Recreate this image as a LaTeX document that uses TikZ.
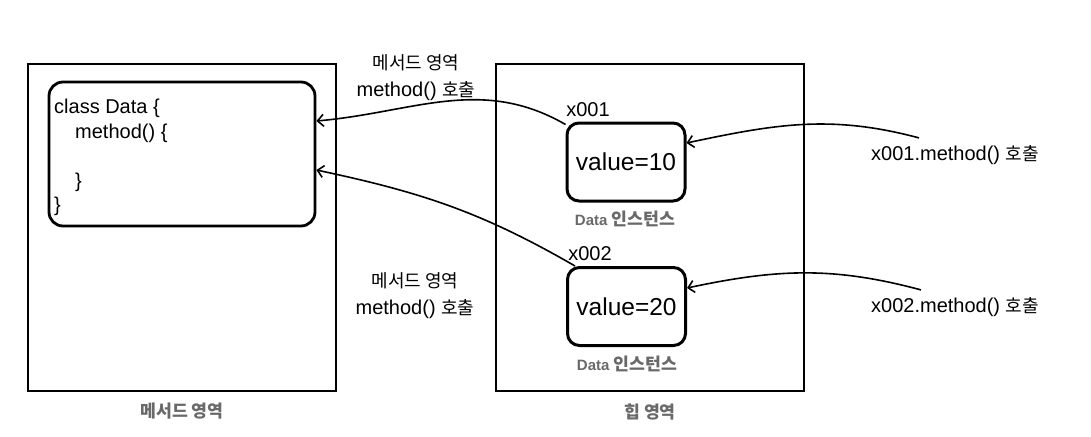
\documentclass[tikz,border=0pt]{standalone}
\usepackage{fontspec}
\setmainfont{Liberation Sans}
\newfontfamily\krfont[Scale=0.9]{Noto Sans CJK KR}
\newfontfamily\krbfont[Scale=1.15]{Noto Sans CJK KR}
\newcommand{\kr}[1]{{\krfont #1}}
\newcommand{\krb}[1]{{\krbfont #1}}
\usetikzlibrary{arrows.meta}
\definecolor{labelgray}{RGB}{105,105,105}
\tikzset{
  area/.style={draw, line width=2.8pt, minimum width=308pt, minimum height=327pt},
  codebox/.style={draw, line width=2.8pt, rounded corners=14pt, minimum width=266pt, minimum height=144pt},
  objbox/.style={draw, line width=3pt, rounded corners=12pt, minimum width=118pt, minimum height=78pt, font=\fontsize{24.5}{28}\selectfont},
  txt/.style={font=\fontsize{20}{27}\selectfont, align=center},
  caption/.style={font=\fontsize{15}{18}\selectfont\bfseries, text=labelgray},
  call/.style={-{Straight Barb[length=6pt,width=12pt]}, line width=1.6pt}
}
\begin{document}
\begin{tikzpicture}[x=1pt,y=-1pt]
\useasboundingbox (0,0) rectangle (1091,436);
% areas
\node[area] (methodarea) at (182,227.5) {};
\node[area] (heap) at (650,227.5) {};
\node[caption] (methodcap) at (182,411) {\krb{메서드 영역}};
\node[caption] (heapcap) at (650,412) {\krb{힙 영역}};
% class code
\node[codebox] (classbox) at (182,154) {};
\node[font=\fontsize{20}{24.5}\selectfont, align=left, anchor=north west, inner sep=0pt] (code) at (54,99)
  {class Data \{\\\hspace*{21pt}method() \{\\~\\\hspace*{21pt}\}\\\}};
% instances
\node[objbox] (obj1) at (626,162) {value=10};
\node[objbox] (obj2) at (626.5,306.5) {value=20};
\node[txt] (ref1) at (588,110) {x001};
\node[txt] (ref2) at (590,254) {x002};
\node[caption] (inst1) at (625,219) {Data \krb{인스턴스}};
\node[caption] (inst2) at (627,364) {Data \krb{인스턴스}};
% calls
\node[txt] (call1) at (955,155) {x001.method() \kr{호출}};
\node[txt] (call2) at (955,307) {x002.method() \kr{호출}};
\node[txt] (lookup1) at (416,78) {\kr{메서드 영역}\\method() \kr{호출}};
\node[txt] (lookup2) at (415,296) {\kr{메서드 영역}\\method() \kr{호출}};
\draw[call] ([xshift=-36pt,yshift=4pt]call1.north) to[out=165,in=12] ([yshift=19pt]obj1.east);
\draw[call] ([xshift=-34pt,yshift=4pt]call2.north) to[out=165,in=12] ([yshift=18.5pt]obj2.east);
\draw[call] ([yshift=-3pt]obj1.north west) to[out=150,in=5] ([yshift=33pt]classbox.east);
\draw[call] ([xshift=9pt]obj2.north west) to[out=150,in=-12] ([yshift=-16pt]classbox.east);
\end{tikzpicture}
\end{document}
